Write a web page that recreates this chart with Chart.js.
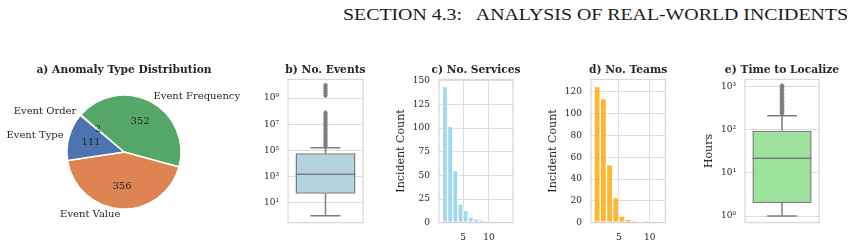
<!DOCTYPE html>
<html>
<head>
<meta charset="utf-8">
<script src="https://cdn.jsdelivr.net/npm/chart.js@4.4.1/dist/chart.umd.min.js"></script>
<style>
  body { margin: 0; width: 853px; height: 247px; background: #fff; position: relative; overflow: hidden; }
  canvas { position: absolute; top: 55px; }
  #header { position: absolute; top: 7px; left: 343px; font-family: "Liberation Serif", serif; font-size: 16px; line-height: 16px; white-space: pre; color: #1a1a1a; transform-origin: 0 0; }
</style>
</head>
<body>
<div id="header">SECTION 4.3:   ANALYSIS OF REAL-WORLD INCIDENTS</div>
<canvas id="pie" width="250" height="192" style="left:0px"></canvas>
<canvas id="events" width="140" height="192" style="left:240px"></canvas>
<canvas id="services" width="150" height="192" style="left:380px"></canvas>
<canvas id="teams" width="150" height="192" style="left:530px"></canvas>
<canvas id="hours" width="173" height="192" style="left:680px"></canvas>
<script>
// a) anomaly types
const anomalyTypes = ["Event Type", "Event Value", "Event Frequency", "Event Order"];
const anomalyCounts = [111, 356, 352, 2];
const anomalyColors = ["#4c72b0", "#dd8452", "#55a868", "#c44e52"];

// b) events per incident: lower whisker, q1, median, q3, upper whisker
const eventStats = [1, 48, 1500, 60000, 160000];
const eventOutliers = [1.7e5, 2.2e5, 2.9e5, 3.9e5, 5.2e5, 7e5, 9.5e5, 1.3e6, 1.8e6, 2.5e6, 3.4e6,
  4.6e6, 6.3e6, 8.5e6, 1.2e7, 1.6e7, 2.2e7, 3e7, 4.2e7, 5.8e7, 8e7,
  1.5e9, 2.1e9, 2.9e9, 4e9, 5.5e9, 7.5e9, 1e10];
const eventTicks = [1e1, 1e3, 1e5, 1e7, 1e9];

// c) services per incident
const serviceBins = [1, 2, 3, 4, 5, 6, 7, 8, 9, 10, 11, 12, 13];
const serviceIncidents = [144, 102, 55, 20, 13, 6, 4, 3, 1, 0, 0, 0, 0];
const serviceTicksX = [5, 10];
const serviceTicksY = [0, 25, 50, 75, 100, 125, 150];

// d) teams per incident
const teamBins = [1, 2, 3, 4, 5, 6, 7, 8, 9, 10, 11];
const teamIncidents = [125, 114, 53, 23, 6, 3, 1, 0, 1, 0, 0];
const teamTicksX = [5, 10];
const teamTicksY = [0, 20, 40, 60, 80, 100, 120];

// e) hours to localize: lower whisker, q1, median, q3, upper whisker
const hourStats = [1, 2, 22, 95, 213];
const hourOutliers = [235, 250, 265, 280, 300, 320, 345, 370, 395, 425, 455, 490, 525,
  565, 610, 655, 705, 760, 820, 880, 950, 1020, 1075];
const hourTicks = [1, 10, 100, 1000];

const textColor = "#262626";
const gridColor = "#dcdcdc";
const spineColor = "#d0d0d0";
const boxLine = "#7d7d7d";
const serif = "'DejaVu Serif', serif";

Chart.defaults.font.family = serif;
Chart.defaults.color = textColor;

// stretch the header to the width it has in the figure
const header = document.getElementById("header");
const hw = header.getBoundingClientRect().width;
header.style.transform = "scaleX(" + (505 / hw) + ")";

const SUP = "⁰¹²³⁴⁵⁶⁷⁸⁹";
function powerLabel(v) {
  const e = Math.round(Math.log10(v));
  return "10" + String(e).split("").map(d => SUP[d]).join("");
}

function fixedTicks(list) {
  return scale => { scale.ticks = list.map(v => ({ value: v })); };
}

// light grey box round each plot area
const frame = {
  id: "frame",
  afterDatasetsDraw(chart) {
    const { ctx, chartArea: a } = chart;
    ctx.save();
    ctx.strokeStyle = spineColor;
    ctx.lineWidth = 1;
    ctx.strokeRect(a.left, a.top, a.right - a.left, a.bottom - a.top);
    ctx.restore();
  }
};

// bold panel title centred over the plot area
const panelTitle = {
  id: "panelTitle",
  afterDraw(chart, args, opts) {
    const { ctx, chartArea: a } = chart;
    ctx.save();
    ctx.font = "bold 10.7px " + serif;
    ctx.fillStyle = textColor;
    ctx.textAlign = "center";
    ctx.textBaseline = "middle";
    ctx.fillText(opts.text, (a.left + a.right) / 2, opts.y);
    ctx.restore();
  }
};

// whiskers, caps and median on top of the floating bar
const boxWhiskers = {
  id: "boxWhiskers",
  afterDatasetsDraw(chart, args, opts) {
    const [lo, q1, med, q3, hi] = opts.stats;
    const bar = chart.getDatasetMeta(0).data[0].getProps(["x", "width"], true);
    const y = chart.scales.y;
    const half = bar.width / 2;
    const cx = bar.x;
    const ctx = chart.ctx;
    ctx.save();
    ctx.strokeStyle = boxLine;
    ctx.lineWidth = 1.5;
    ctx.beginPath();
    ctx.moveTo(cx - half, y.getPixelForValue(med));
    ctx.lineTo(cx + half, y.getPixelForValue(med));
    ctx.moveTo(cx, y.getPixelForValue(q3));
    ctx.lineTo(cx, y.getPixelForValue(hi));
    ctx.moveTo(cx, y.getPixelForValue(q1));
    ctx.lineTo(cx, y.getPixelForValue(lo));
    ctx.moveTo(cx - half / 2, y.getPixelForValue(hi));
    ctx.lineTo(cx + half / 2, y.getPixelForValue(hi));
    ctx.moveTo(cx - half / 2, y.getPixelForValue(lo));
    ctx.lineTo(cx + half / 2, y.getPixelForValue(lo));
    ctx.stroke();
    ctx.restore();
  }
};

// pie labels outside, counts inside
const pieLabels = {
  id: "pieLabels",
  afterDatasetsDraw(chart) {
    const ctx = chart.ctx;
    const ds = chart.data.datasets[0];
    ctx.save();
    ctx.font = "10px " + serif;
    ctx.fillStyle = textColor;
    ctx.textBaseline = "middle";
    chart.getDatasetMeta(0).data.forEach((arc, i) => {
      const p = arc.getProps(["x", "y", "startAngle", "endAngle", "outerRadius"], true);
      const mid = (p.startAngle + p.endAngle) / 2;
      const c = Math.cos(mid), s = Math.sin(mid);
      ctx.textAlign = c < 0 ? "right" : "left";
      ctx.fillText(chart.data.labels[i], p.x + c * p.outerRadius * 1.1, p.y + s * p.outerRadius * 1.1);
      ctx.textAlign = "center";
      ctx.fillText(String(ds.data[i]), p.x + c * p.outerRadius * 0.6, p.y + s * p.outerRadius * 0.6);
    });
    ctx.restore();
  }
};

function yAxis(width, extra) {
  return Object.assign({
    afterFit: s => { s.width = width; },
    grid: { color: gridColor, lineWidth: 1, drawTicks: false },
    border: { display: false },
    ticks: { padding: 9, font: { size: 9 }, color: textColor }
  }, extra);
}

function yTitle(text) {
  return { display: true, text, color: textColor, font: { size: 11, family: serif }, padding: 0 };
}

// a) pie, drawn clockwise so the order is reversed
new Chart(document.getElementById("pie"), {
  type: "pie",
  data: {
    labels: anomalyTypes.slice().reverse(),
    datasets: [{
      data: anomalyCounts.slice().reverse(),
      backgroundColor: anomalyColors.slice().reverse(),
      borderColor: "#ffffff",
      borderWidth: 1.5,
      hoverOffset: 0,
      radius: 57
    }]
  },
  options: {
    responsive: false, animation: false,
    rotation: -50,
    layout: { padding: { left: 67, right: 69, top: 40, bottom: 38 } },
    plugins: {
      legend: { display: false }, tooltip: { enabled: false },
      panelTitle: { text: "a) Anomaly Type Distribution", y: 15 }
    }
  },
  plugins: [pieLabels, panelTitle]
});

function boxChart(id, label, titleText, stats, outliers, ticks, fill, yMin, yMax, axisWidth, pad, axisTitle) {
  new Chart(document.getElementById(id), {
    type: "bar",
    data: {
      labels: [label],
      datasets: [{
        data: [[stats[1], stats[3]]],
        backgroundColor: fill,
        borderColor: boxLine,
        borderWidth: 1.5,
        borderSkipped: false,
        barPercentage: 0.8,
        categoryPercentage: 1
      }, {
        type: "line",
        data: outliers.map(v => ({ x: label, y: v })),
        showLine: false,
        pointStyle: "rectRot",
        pointRadius: 2.2,
        pointBackgroundColor: boxLine,
        pointBorderColor: boxLine,
        pointBorderWidth: 0.5,
        clip: false
      }]
    },
    options: {
      responsive: false, animation: false,
      layout: { padding: pad },
      scales: {
        x: { display: false },
        y: yAxis(axisWidth, {
          type: "logarithmic", min: yMin, max: yMax,
          afterBuildTicks: fixedTicks(ticks),
          ticks: { padding: 9, font: { size: 9 }, color: textColor, callback: v => powerLabel(v) },
          title: axisTitle ? yTitle(axisTitle) : { display: false }
        })
      },
      plugins: {
        legend: { display: false }, tooltip: { enabled: false },
        panelTitle: { text: titleText, y: 15 },
        boxWhiskers: { stats }
      }
    },
    plugins: [boxWhiskers, frame, panelTitle]
  });
}

function histChart(id, titleText, bins, counts, color, xMin, xMax, yMax, xTicks, yTicks, pad, axisWidth) {
  new Chart(document.getElementById(id), {
    type: "bar",
    data: {
      datasets: [{
        data: bins.map((b, i) => ({ x: b + 0.5, y: counts[i] })),
        backgroundColor: color,
        borderColor: "rgba(255,255,255,0.75)",
        borderWidth: 1,
        borderSkipped: false,
        barPercentage: 1,
        categoryPercentage: 1
      }]
    },
    options: {
      responsive: false, animation: false,
      layout: { padding: pad },
      scales: {
        x: {
          type: "linear", min: xMin, max: xMax, offset: false,
          afterBuildTicks: fixedTicks(xTicks),
          afterFit: s => { s.height = 24.3; },
          grid: { color: gridColor, lineWidth: 1, drawTicks: false, offset: false },
          border: { display: false },
          ticks: { padding: 9.5, font: { size: 9 }, color: textColor }
        },
        y: yAxis(axisWidth, {
          min: 0, max: yMax,
          afterBuildTicks: fixedTicks(yTicks),
          title: yTitle("Incident Count")
        })
      },
      plugins: {
        legend: { display: false }, tooltip: { enabled: false },
        panelTitle: { text: titleText, y: 15 }
      }
    },
    plugins: [frame, panelTitle]
  });
}

boxChart("events", "events", "b) No. Events", eventStats, eventOutliers, eventTicks, "#b4d4df",
  0.347, 2.7e10, 48, { left: 0, right: 17, top: 24.3, bottom: 24.3 }, null);

histChart("services", "c) No. Services", serviceBins, serviceIncidents, "rgba(135,206,235,0.8)",
  0.35, 14.65, 151.6, serviceTicksX, serviceTicksY, { left: 14.1, right: 17, top: 24.3, bottom: 0 }, 44.9);

histChart("teams", "d) No. Teams", teamBins, teamIncidents, "rgba(255,165,0,0.8)",
  0.5, 12.5, 131.6, teamTicksX, teamTicksY, { left: 16.1, right: 14.7, top: 24.3, bottom: 0 }, 44.9);

boxChart("hours", "hours", "e) Time to Localize", hourStats, hourOutliers, hourTicks, "#9ce29c",
  0.724, 1496, 42.3, { left: 22.7, right: 34, top: 24.3, bottom: 24.3 }, "Hours");
</script>
</body>
</html>
